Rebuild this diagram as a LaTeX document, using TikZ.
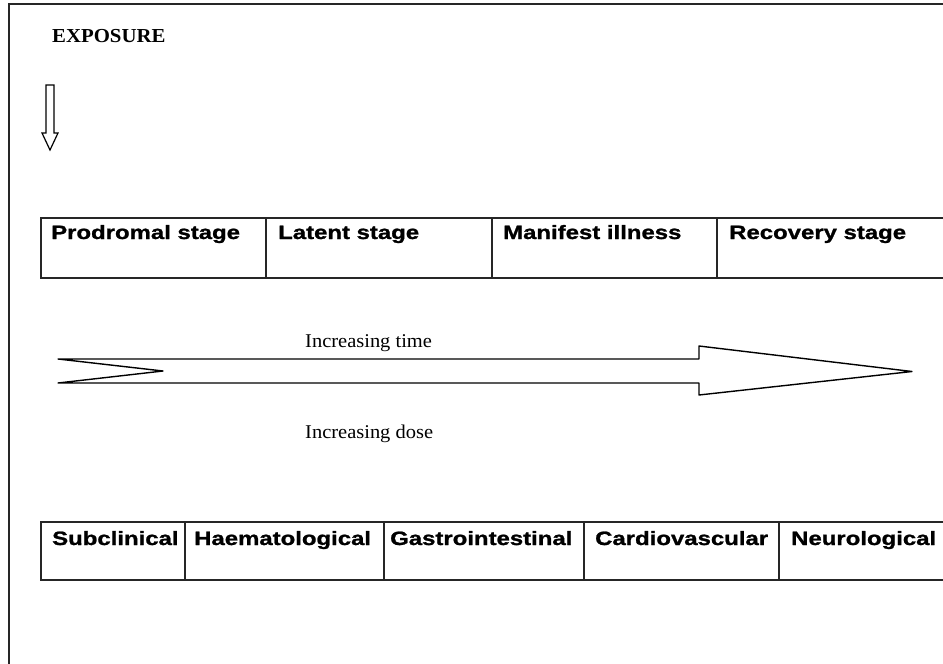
\documentclass[tikz,border=0pt]{standalone}
\usepackage{fontspec}
\setmainfont{Liberation Serif}
\newfontfamily\boxfont[FakeStretch=1.24,FakeBold=1.2]{Liberation Sans}
\newfontfamily\serfont[FakeStretch=1.05]{Liberation Serif}
\newcommand\cellfont{\boxfont\bfseries\fontsize{19.3}{19.3}\selectfont}
\newcommand\labfont{\serfont\fontsize{19.5}{19.5}\selectfont}
\newcommand\headfont{\serfont\bfseries\fontsize{19.8}{19.8}\selectfont}
\begin{document}
\begin{tikzpicture}[x=1pt,y=-1pt,
  cell/.style={draw=black!85,line width=1.2pt,anchor=north west,inner sep=0pt,outer sep=0pt},
  celltext/.style={anchor=base west,inner sep=0pt,font=\cellfont},
  labtext/.style={anchor=base west,inner sep=0pt,font=\labfont},
  hollow/.style={draw=black,line width=1.4pt,line join=round}]
\useasboundingbox (0,0) rectangle (943,664);
\draw[line width=1.8pt,black!85] (948,4) -- (9,4) -- (9,670);
% exposure
\node[anchor=base west,inner sep=0pt,font=\headfont] (exp) at (52,42) {EXPOSURE};
\draw[hollow,line width=1.2pt,line join=miter] (46,85) -- (54,85) -- (54,133) -- (58,133) -- (50,150) -- (42,133) -- (46,133) -- cycle;
% stages
\node[cell,minimum width=225pt,minimum height=60pt] (s1) at (41,218) {};
\node[cell,minimum width=226pt,minimum height=60pt] (s2) at (266,218) {};
\node[cell,minimum width=225pt,minimum height=60pt] (s3) at (492,218) {};
\node[cell,minimum width=240pt,minimum height=60pt] (s4) at (717,218) {};
\node[celltext] (t1) at (51,239) {Prodromal stage};
\node[celltext] (t2) at (278,239) {Latent stage};
\node[celltext] (t3) at (503,239) {Manifest illness};
\node[celltext] (t4) at (729,239) {Recovery stage};
% big arrow
\draw[hollow] (58,359) -- (699,359) -- (699,346) -- (912,371.5) -- (699,395) -- (699,383) -- (58,383) -- (163,371) -- cycle;
\node[labtext] (lt) at (305,347.5) {Increasing time};
\node[labtext] (ld) at (305,438) {Increasing dose};
% effects
\node[cell,minimum width=144pt,minimum height=58pt] (d1) at (41,522) {};
\node[cell,minimum width=199pt,minimum height=58pt] (d2) at (185,522) {};
\node[cell,minimum width=200pt,minimum height=58pt] (d3) at (384,522) {};
\node[cell,minimum width=195pt,minimum height=58pt] (d4) at (584,522) {};
\node[cell,minimum width=180pt,minimum height=58pt] (d5) at (779,522) {};
\node[celltext] (e1) at (52,545) {Subclinical};
\node[celltext] (e2) at (194,545) {Haematological};
\node[celltext] (e3) at (390,545) {Gastrointestinal};
\node[celltext] (e4) at (595,545) {Cardiovascular};
\node[celltext] (e5) at (791,545) {Neurological};
\end{tikzpicture}
\end{document}
